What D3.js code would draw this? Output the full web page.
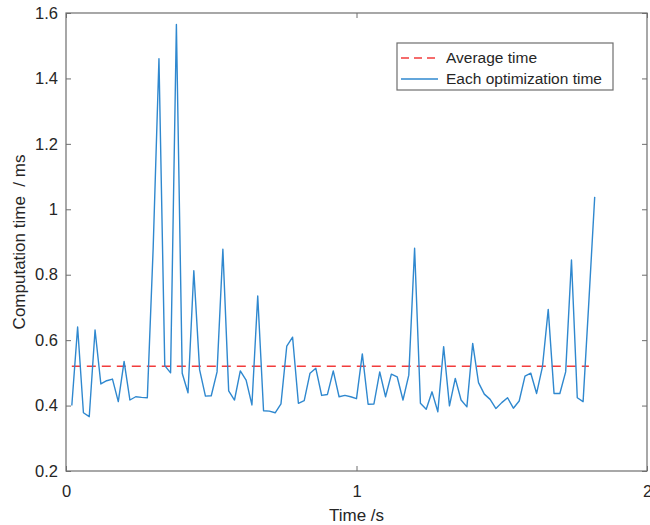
<!DOCTYPE html>
<html>
<head>
<meta charset="utf-8">
<script src="https://cdn.jsdelivr.net/npm/d3@7"></script>
<style>
  body { margin: 0; background: #fff; }
  svg { font-family: "Liberation Sans", Arial, sans-serif; }
  .tick text { fill: #262626; font-size: 16.5px; }
  .tick line { stroke: #6e6e6e; }
  .label { fill: #262626; font-size: 17px; }
</style>
</head>
<body>
<svg id="chart" width="650" height="525"></svg>
<script>
// sample times start at 0.02 s and step 0.02 s
var t_start = 0.02,
    t_step = 0.02;

var opt_time = [
  0.40, 0.64, 0.378, 0.366, 0.631, 0.466, 0.476, 0.481, 0.412, 0.535,
  0.417, 0.427, 0.425, 0.424, 0.88, 1.46, 0.522, 0.500, 1.565, 0.499,
  0.439, 0.812, 0.509, 0.429, 0.430, 0.503, 0.878, 0.445, 0.417, 0.506,
  0.478, 0.402, 0.735, 0.384, 0.383, 0.378, 0.405, 0.582, 0.609, 0.407,
  0.415, 0.499, 0.514, 0.431, 0.434, 0.506, 0.427, 0.431, 0.427, 0.421,
  0.558, 0.404, 0.405, 0.503, 0.427, 0.496, 0.488, 0.417, 0.493, 0.881,
  0.407, 0.389, 0.442, 0.381, 0.580, 0.399, 0.483, 0.417, 0.396, 0.590,
  0.470, 0.435, 0.419, 0.391, 0.409, 0.424, 0.392, 0.414, 0.490, 0.499,
  0.437, 0.518, 0.694, 0.437, 0.437, 0.503, 0.845, 0.424, 0.412, 0.72,
  1.038
];

var avg_time = 0.52,
    avg_range = [0.02, 1.80];

var x_ticks = [0, 1, 2],
    y_ticks = [0.2, 0.4, 0.6, 0.8, 1, 1.2, 1.4, 1.6];

var legend_labels = ['Average time', 'Each optimization time'];

var svg = d3.select('#chart'),
    margin = {top: 13, right: 3, bottom: 54, left: 66},
    width = 650 - margin.left - margin.right,
    height = 525 - margin.top - margin.bottom,
    axis_color = '#6e6e6e',
    blue = '#2f88cf',
    red = '#f23c3c';

var x = d3.scaleLinear().domain([0, 2]).range([0, width]),
    y = d3.scaleLinear().domain([0.2, 1.6]).range([height, 0]);

var g = svg.append('g')
           .attr('transform', 'translate(' + margin.left + ',' + margin.top + ')');

var points = opt_time.map(function(v, i){
  return {t: t_start + i * t_step, v: v};
});

var fmt = d3.format('~g');

// bottom / left axes with ticks pointing inward
g.append('g')
 .attr('transform', 'translate(0,' + height + ')')
 .call(d3.axisBottom(x).tickValues(x_ticks).tickSize(-5).tickPadding(14).tickFormat(fmt))
 .call(function(s){ s.select('.domain').remove(); });

g.append('g')
 .call(d3.axisLeft(y).tickValues(y_ticks).tickSize(-5).tickPadding(8).tickFormat(fmt))
 .call(function(s){ s.select('.domain').remove(); });

// mirrored ticks on top / right
g.append('g')
 .call(d3.axisTop(x).tickValues(x_ticks).tickSize(-5).tickFormat(''))
 .call(function(s){ s.select('.domain').remove(); });

g.append('g')
 .attr('transform', 'translate(' + width + ',0)')
 .call(d3.axisRight(y).tickValues(y_ticks).tickSize(-5).tickFormat(''))
 .call(function(s){ s.select('.domain').remove(); });

g.selectAll('.tick text').attr('font-family', null).attr('font-size', null);

// average line
g.append('line')
 .attr('x1', x(avg_range[0]))
 .attr('x2', x(avg_range[1]))
 .attr('y1', y(avg_time))
 .attr('y2', y(avg_time))
 .attr('stroke', red)
 .attr('stroke-width', 1.6)
 .attr('stroke-dasharray', '9,6');

// optimization time series
g.append('path')
 .datum(points)
 .attr('fill', 'none')
 .attr('stroke', blue)
 .attr('stroke-width', 1.4)
 .attr('stroke-linejoin', 'round')
 .attr('d', d3.line().x(function(d){ return x(d.t); }).y(function(d){ return y(d.v); }));

// box
g.append('rect')
 .attr('width', width)
 .attr('height', height)
 .attr('fill', 'none')
 .attr('stroke', axis_color)
 .attr('stroke-width', 1.2);

// axis labels
svg.append('text')
   .attr('class', 'label')
   .attr('x', margin.left + width / 2)
   .attr('y', 521)
   .attr('text-anchor', 'middle')
   .text('Time /s');

svg.append('text')
   .attr('class', 'label')
   .attr('transform', 'translate(25,' + (margin.top + height / 2) + ') rotate(-90)')
   .attr('text-anchor', 'middle')
   .style('white-space', 'pre')
   .text('Computation time  / ms');

// legend
var legend = svg.append('g').attr('transform', 'translate(397,43)');

legend.append('rect')
      .attr('width', 216)
      .attr('height', 47)
      .attr('fill', '#fff')
      .attr('stroke', axis_color)
      .attr('stroke-width', 1.2);

var legend_items = legend.selectAll('.item')
      .data(legend_labels)
      .enter()
      .append('g')
      .attr('class', 'item')
      .attr('transform', function(d, i){ return 'translate(0,' + (15 + i * 21) + ')'; });

legend_items.append('line')
      .attr('x1', 4)
      .attr('x2', 41)
      .attr('stroke', function(d, i){ return i === 0 ? red : blue; })
      .attr('stroke-width', function(d, i){ return i === 0 ? 1.4 : 1.4; })
      .attr('stroke-dasharray', function(d, i){ return i === 0 ? '8,5' : null; });

legend_items.append('text')
      .attr('x', 49)
      .attr('dy', '0.35em')
      .attr('fill', '#262626')
      .attr('font-size', '15.5px')
      .text(function(d){ return d; });
</script>
</body>
</html>
